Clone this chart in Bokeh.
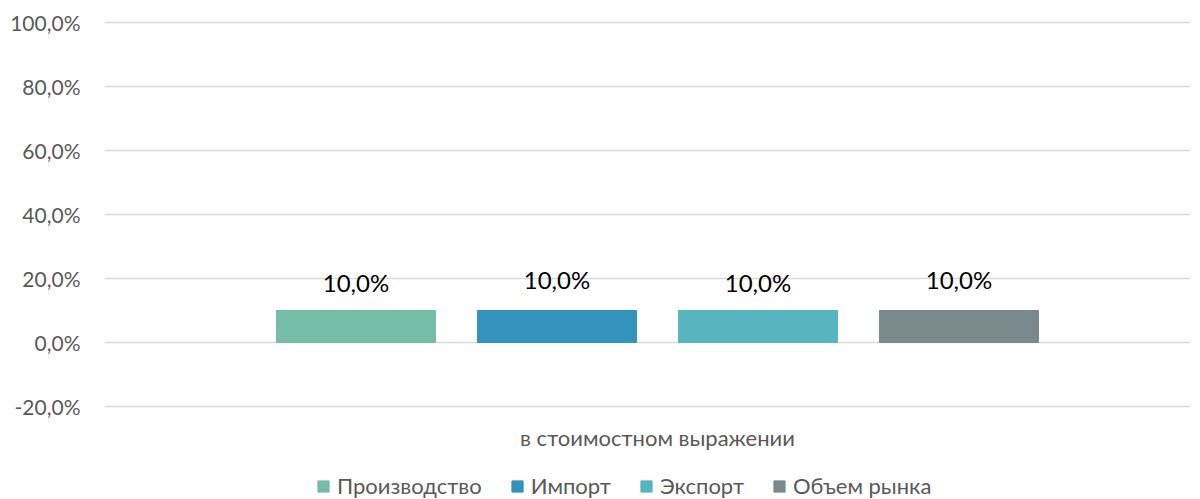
from bokeh.plotting import figure
from bokeh.models import (Range1d, FixedTicker, CustomJSTickFormatter, ColumnDataSource,
                          Legend, LegendItem, Label)
from bokeh.embed import file_html
from bokeh.resources import INLINE
from bokeh.core.properties import value

# ---- data ----
series = ["Производство", "Импорт", "Экспорт", "Объем рынка"]
values = [0.10, 0.10, 0.10, 0.10]
colors = ["#75BDA6", "#3393BC", "#58B5C0", "#7A8A8C"]
category = "в стоимостном выражении"
y_ticks = [-0.2, 0.0, 0.2, 0.4, 0.6, 0.8, 1.0]
label_offsets = [-28, -31, -28, -31]   # style: vertical label offsets in px

idx = list(range(len(series)))
labels = [("%.1f" % (v * 100)).replace(".", ",") + "%" for v in values]
src = ColumnDataSource(dict(x=idx, top=values, color=colors, label=labels,
                            yoff=label_offsets))

FONT = "Lato"
GRAY = "#595959"

p = figure(width=1200, height=499, output_backend="svg", toolbar_location=None,
           x_range=Range1d(-1.251, 4.152), y_range=Range1d(-0.490625, 1.00625),
           min_border_left=104, min_border_right=10, min_border_top=20, min_border_bottom=0)
p.outline_line_color = None
p.background_fill_color = "white"
p.border_fill_color = "white"

bars = p.vbar(x="x", top="top", bottom=0, width=0.791, color="color", source=src)
p.text(x="x", y="top", text="label", y_offset="yoff", text_align="center",
       text_baseline="alphabetic", text_font=value(FONT), text_font_size="24px",
       text_color="#000000", source=src)

# y axis
p.yaxis.ticker = FixedTicker(ticks=y_ticks)
p.yaxis.formatter = CustomJSTickFormatter(
    code="return (tick*100).toFixed(1).replace('.', ',') + '%';")
p.yaxis.axis_line_color = None
p.yaxis.major_tick_line_color = None
p.yaxis.minor_tick_line_color = None
p.yaxis.major_label_text_font = FONT
p.yaxis.major_label_text_font_size = "21px"
p.yaxis.major_label_text_color = GRAY
p.yaxis.major_label_standoff = 18

p.xaxis.visible = False
p.xgrid.grid_line_color = None
p.ygrid.ticker = FixedTicker(ticks=y_ticks)
p.ygrid.grid_line_color = "#D9D9D9"
p.ygrid.grid_line_width = 1.5

# category label centered under the bar group
center = sum(idx) / len(idx)
p.add_layout(Label(x=center, y=62, y_units="screen", text=category,
                   text_align="center", text_baseline="middle",
                   text_font=FONT, text_font_size="22px", text_color=GRAY))

# legend (one entry per bar of the single renderer)
items = [LegendItem(label=name, renderers=[bars], index=i) for i, name in enumerate(series)]
legend = Legend(items=items, orientation="horizontal", location=(212, 0),
                glyph_width=14, glyph_height=14, label_standoff=7, spacing=28,
                padding=0, margin=0, border_line_color=None, background_fill_alpha=0,
                label_text_font=FONT, label_text_font_size="22px",
                label_text_color=GRAY, label_height=20)
p.add_layout(legend, "center")

open("out.html", "w").write(file_html(p, INLINE))
